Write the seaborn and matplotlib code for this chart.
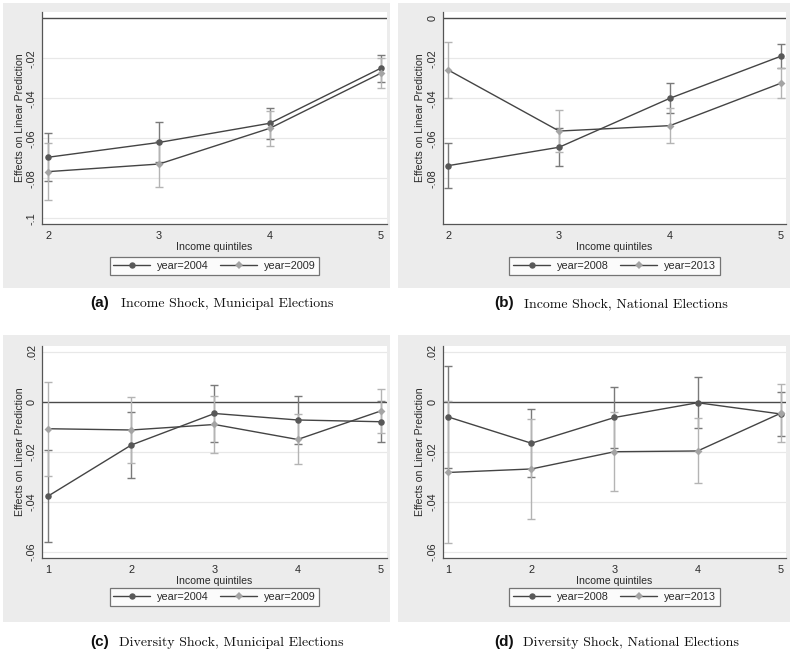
import numpy as np
import pandas as pd
import matplotlib
matplotlib.use("Agg")
import matplotlib.pyplot as plt
from matplotlib.lines import Line2D
from matplotlib.patches import Rectangle
from matplotlib.ticker import FuncFormatter
import seaborn as sns

# ---------------------------------------------------------------- data
quintiles_income = [2, 3, 4, 5]
quintiles_diversity = [1, 2, 3, 4, 5]

# (a) Income shock, municipal elections
a_years = ["2004", "2009"]
a_est_first = [-0.0695, -0.0621, -0.0525, -0.0250]
a_lo_first = [-0.0815, -0.0721, -0.0603, -0.0317]
a_hi_first = [-0.0575, -0.0521, -0.0447, -0.0183]
a_est_second = [-0.0767, -0.0729, -0.0550, -0.0275]
a_lo_second = [-0.0908, -0.0842, -0.0637, -0.0350]
a_hi_second = [-0.0626, -0.0616, -0.0463, -0.0200]

# (b) Income shock, national elections
b_years = ["2008", "2013"]
b_est_first = [-0.0737, -0.0645, -0.0400, -0.0190]
b_lo_first = [-0.0850, -0.0739, -0.0475, -0.0250]
b_hi_first = [-0.0625, -0.0551, -0.0325, -0.0129]
b_est_second = [-0.0259, -0.0564, -0.0537, -0.0325]
b_lo_second = [-0.0400, -0.0669, -0.0625, -0.0400]
b_hi_second = [-0.0120, -0.0459, -0.0450, -0.0250]

# (c) Diversity shock, municipal elections
c_years = ["2004", "2009"]
c_est_first = [-0.0377, -0.0173, -0.0047, -0.0073, -0.0080]
c_lo_first = [-0.0560, -0.0304, -0.0160, -0.0170, -0.0163]
c_hi_first = [-0.0193, -0.0043, 0.0067, 0.0024, 0.0003]
c_est_second = [-0.0108, -0.0113, -0.0091, -0.0151, -0.0037]
c_lo_second = [-0.0296, -0.0245, -0.0204, -0.0250, -0.0124]
c_hi_second = [0.0080, 0.0020, 0.0022, -0.0051, 0.0050]

# (d) Diversity shock, national elections
d_years = ["2008", "2013"]
d_est_first = [-0.0061, -0.0166, -0.0063, -0.0004, -0.0049]
d_lo_first = [-0.0264, -0.0300, -0.0186, -0.0107, -0.0137]
d_hi_first = [0.0143, -0.0031, 0.0060, 0.0099, 0.0039]
d_est_second = [-0.0283, -0.0269, -0.0200, -0.0197, -0.0046]
d_lo_second = [-0.0567, -0.0469, -0.0357, -0.0327, -0.0162]
d_hi_second = [0.0001, -0.0069, -0.0043, -0.0067, 0.0070]

captions = [
    ("(a)", "Income Shock, Municipal Elections"),
    ("(b)", "Income Shock, National Elections"),
    ("(c)", "Diversity Shock, Municipal Elections"),
    ("(d)", "Diversity Shock, National Elections"),
]

# ---------------------------------------------------------------- style
sns.set_style("white")
plt.rcParams["font.family"] = ["Liberation Sans", "DejaVu Sans"]

W, H = 790, 654
fig = plt.figure(figsize=(W / 100, H / 100), dpi=100)
fig.patch.set_facecolor("white")

LINE = "#444444"
DARK = "#585858"
LIGHT = "#a4a4a4"
CI_DARK = "#7a7a7a"
CI_LIGHT = "#b4b4b4"
AXC = "#555555"
TXT = "#2a2a2a"
GRID = "#e8e8e8"
BG = "#ececec"


def px_axes(left, right, top, bottom):
    return fig.add_axes([left / W, 1 - bottom / H, (right - left) / W, (bottom - top) / H])


def stata_fmt(v, _pos=None):
    if abs(v) < 1e-12:
        return "0"
    s = f"{v:g}"
    return s.replace("0.", ".")


def gray_region(x0, y0, x1, y1):
    fig.add_artist(Rectangle((x0 / W, 1 - y1 / H), (x1 - x0) / W, (y1 - y0) / H,
                             transform=fig.transFigure, facecolor=BG,
                             edgecolor="none", zorder=-5))


def draw_panel(ax, x, years, series, xlim, ylim, yticks, gridticks, legend_center):
    rows = []
    for yr, (est, lo, hi) in zip(years, series):
        for q, e, l, h in zip(x, est, lo, hi):
            rows.append({"quintile": q, "effect": e, "lo": l, "hi": h, "year": f"year={yr}"})
    df = pd.DataFrame(rows)
    labels = [f"year={y}" for y in years]

    for g in gridticks:
        ax.axhline(g, color=GRID, lw=0.9, zorder=0.5)
    ax.axhline(0, color="#4a4a4a", lw=1.0, zorder=1)

    for lab, col in zip(labels, [CI_DARK, CI_LIGHT]):
        sub = df[df["year"] == lab]
        ax.errorbar(sub["quintile"], sub["effect"],
                    yerr=[sub["effect"] - sub["lo"], sub["hi"] - sub["effect"]],
                    fmt="none", ecolor=col, elinewidth=1.0, capsize=2.6,
                    capthick=1.0, zorder=2)

    sns.lineplot(data=df, x="quintile", y="effect", hue="year",
                 palette={labels[0]: LINE, labels[1]: LINE}, estimator=None,
                 sort=False, lw=1.0, legend=False, ax=ax, zorder=3)
    sns.scatterplot(data=df[df["year"] == labels[0]], x="quintile", y="effect",
                    color=DARK, marker="o", s=22, linewidth=0, legend=False,
                    ax=ax, zorder=4)
    sns.scatterplot(data=df[df["year"] == labels[1]], x="quintile", y="effect",
                    color=LIGHT, marker="D", s=16, linewidth=0, legend=False,
                    ax=ax, zorder=4)

    ax.set_xlim(*xlim)
    ax.set_ylim(*ylim)
    ax.set_xticks(x)
    ax.set_yticks(yticks)
    ax.yaxis.set_major_formatter(FuncFormatter(stata_fmt))
    ax.set_facecolor("white")
    for side in ("top", "right"):
        ax.spines[side].set_visible(False)
    for side in ("left", "bottom"):
        ax.spines[side].set_color(AXC)
        ax.spines[side].set_linewidth(0.9)
    ax.tick_params(axis="both", direction="out", length=3, width=0.8,
                   color=AXC, labelsize=7.8, labelcolor=TXT)
    ax.tick_params(axis="y", pad=1, labelrotation=90)
    ax.tick_params(axis="x", pad=2)
    plt.setp(ax.get_yticklabels(), va="center")
    ax.set_xlabel("Income quintiles", fontsize=7.6, color=TXT, labelpad=1)
    ax.set_ylabel("Effects on Linear Prediction", fontsize=7.6, color=TXT, labelpad=1.5)

    handles = [
        Line2D([], [], color=LINE, lw=1.0, marker="o", markersize=4.6,
               markerfacecolor=DARK, markeredgewidth=0),
        Line2D([], [], color=LINE, lw=1.0, marker="D", markersize=4.0,
               markerfacecolor=LIGHT, markeredgewidth=0),
    ]
    leg = fig.legend(handles, labels, ncol=2, loc="center",
                     bbox_to_anchor=(legend_center[0] / W, 1 - legend_center[1] / H),
                     bbox_transform=fig.transFigure, fontsize=7.8, frameon=True,
                     fancybox=False, handlelength=3.4, handletextpad=0.6,
                     columnspacing=1.1, borderpad=0.35, borderaxespad=0)
    leg.get_frame().set_edgecolor(AXC)
    leg.get_frame().set_linewidth(0.9)
    leg.get_frame().set_facecolor("white")
    for t in leg.get_texts():
        t.set_color(TXT)


# grey graph regions
gray_region(3, 3, 390, 288)
gray_region(398, 3, 790, 288)
gray_region(3, 335, 390, 622)
gray_region(398, 335, 790, 622)

ax_a = px_axes(42.3, 386.7, 12, 224)
ax_b = px_axes(442.7, 785.7, 12, 224)
ax_c = px_axes(42.3, 386.7, 346, 557.7)
ax_d = px_axes(442.7, 785.7, 346, 557.7)

draw_panel(ax_a, quintiles_income, a_years,
           [(a_est_first, a_lo_first, a_hi_first), (a_est_second, a_lo_second, a_hi_second)],
           (1.946, 5.054), (-0.1029, 0.00315),
           [-0.02, -0.04, -0.06, -0.08, -0.1], [-0.02, -0.04, -0.06, -0.08, -0.1],
           (214.5, 266))
draw_panel(ax_b, quintiles_income, b_years,
           [(b_est_first, b_lo_first, b_hi_first), (b_est_second, b_lo_second, b_hi_second)],
           (1.949, 5.045), (-0.1029, 0.00315),
           [0, -0.02, -0.04, -0.06, -0.08], [-0.02, -0.04, -0.06, -0.08],
           (614.5, 266))
draw_panel(ax_c, quintiles_diversity, c_years,
           [(c_est_first, c_lo_first, c_hi_first), (c_est_second, c_lo_second, c_hi_second)],
           (0.928, 5.072), (-0.0624, 0.0223),
           [0.02, 0, -0.02, -0.04, -0.06], [0.02, -0.02, -0.04, -0.06],
           (214.5, 597))
draw_panel(ax_d, quintiles_diversity, d_years,
           [(d_est_first, d_lo_first, d_hi_first), (d_est_second, d_lo_second, d_hi_second)],
           (0.933, 5.06), (-0.0624, 0.0223),
           [0.02, 0, -0.02, -0.04, -0.06], [0.02, -0.02, -0.04, -0.06],
           (614.5, 597))

# sub-figure captions
cap_pos = [(90, 121, 307), (494, 524, 307), (90, 119, 646), (494, 523, 646)]
for (tag, text), (xt, xs, yb) in zip(captions, cap_pos):
    fig.text(xt / W, 1 - yb / H, tag, fontsize=11, fontweight="bold",
             family=["Liberation Sans", "DejaVu Sans"], color="#111111",
             ha="left", va="baseline")
    fig.text(xs / W, 1 - yb / H, text, fontsize=10, family=["cmr10", "DejaVu Serif"],
             color="#111111", ha="left", va="baseline")

fig.savefig("out.png", dpi=100, facecolor="white")
